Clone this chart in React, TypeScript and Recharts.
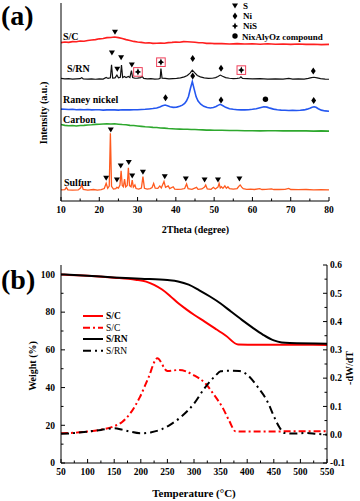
import React from 'react';
import { ComposedChart, Line, Scatter, XAxis, YAxis } from 'recharts';

const FONT = '"Liberation Serif", "Times New Roman", serif';

// ---------- Panel (a): XRD patterns (2Theta, stacked intensity) ----------
const THETA_TICKS = [10, 15, 20, 25, 30, 35, 40, 45, 50, 55, 60, 65, 70, 75, 80];

const SC_XRD: [number, number][] = [
  [10, 80.0], [11, 80.3], [12, 80.1], [13, 80.5], [14, 80.4], [15, 80.8], [16, 80.7], [17, 81.1], [18, 81.3],
  [19, 81.5], [20, 81.9], [21, 82.1], [22, 82.5], [23, 82.6], [24, 82.8], [25, 82.5], [26, 82.1], [27, 81.5],
  [28, 81.1], [29, 80.6], [30, 80.3], [31, 80.1], [32, 79.8], [33, 79.9], [34, 79.6], [35, 79.7], [36, 79.8],
  [37, 79.7], [38, 80.0], [39, 80.1], [40, 80.3], [41, 80.2], [42, 80.5], [43, 80.4], [44, 80.3], [45, 80.2],
  [46, 79.9], [47, 79.9], [48, 79.6], [49, 79.7], [50, 79.5], [52, 79.5], [54, 79.3], [56, 79.5], [58, 79.3],
  [60, 79.4], [62, 79.2], [64, 79.4], [66, 79.2], [68, 79.3], [70, 79.1], [72, 79.3], [74, 79.1], [76, 79.2],
  [78, 79.0], [80, 79.1],
];

const SRN_XRD: [number, number][] = [
  [10, 61.9], [11, 61.7], [12, 61.8], [13, 61.6], [14, 61.7], [15, 61.8], [15.4, 62.3], [15.8, 61.7], [17, 61.6],
  [18, 61.7], [19, 61.5], [20, 61.7], [21, 61.6], [21.8, 62.4], [22.3, 61.9], [22.9, 62.2], [23.2, 68.8], [23.5, 62.1],
  [24.1, 62.2], [24.6, 63.6], [25.0, 62.2], [25.5, 62.5], [25.8, 68.6], [26.1, 62.4], [26.6, 62.9], [27.0, 62.3],
  [27.6, 62.9], [28.0, 62.4], [28.4, 65.9], [28.7, 62.4], [29.3, 62.0], [30.0, 62.1], [30.8, 62.3], [31.2, 62.9],
  [31.6, 61.9], [32.5, 61.7], [33.5, 61.8], [34.5, 61.6], [35.5, 61.7], [35.9, 62.0], [36.1, 66.9], [36.4, 62.0],
  [37.2, 61.9], [38.2, 61.7], [39.2, 61.8], [40.2, 61.9], [41.2, 62.2], [42.2, 62.7], [43.0, 63.4], [43.7, 64.6],
  [44.3, 66.1], [44.9, 64.8], [45.6, 63.4], [46.4, 62.7], [47.4, 62.2], [48.5, 61.9], [49.5, 62.0], [50.4, 62.3],
  [51.0, 62.9], [51.6, 63.6], [52.2, 63.0], [53.0, 62.3], [54.0, 62.0], [55.0, 61.8], [56.0, 61.9], [56.7, 62.1],
  [57.0, 62.7], [57.4, 61.9], [58.5, 61.8], [60, 61.7], [62, 61.8], [64, 61.6], [66, 61.7], [68, 61.6], [69.5, 61.9],
  [70.5, 61.6], [72, 61.7], [73.5, 61.6], [74.6, 61.9], [75.4, 62.3], [76.1, 62.5], [76.9, 62.2], [77.8, 61.8],
  [79, 61.6], [80, 61.5],
];

const RANEY_XRD: [number, number][] = [
  [10, 46.4], [11, 46.3], [12, 46.2], [13, 46.3], [14, 46.1], [15, 46.2], [16, 46.1], [17, 46.2], [18, 46.0],
  [19, 46.1], [20, 46.1], [21, 45.9], [22, 46.0], [23, 46.1], [24, 46.0], [25, 45.9], [26, 46.1], [27, 46.0],
  [28, 46.0], [29, 46.1], [30, 46.1], [31, 46.2], [32, 46.3], [33, 46.5], [34, 46.7], [35, 47.0], [35.8, 47.5],
  [36.5, 48.1], [37.2, 48.5], [37.8, 48.1], [38.5, 47.6], [39.3, 47.3], [40.2, 47.4], [41.0, 47.8], [41.7, 48.4],
  [42.3, 49.3], [42.8, 50.6], [43.3, 52.8], [43.8, 56.8], [44.3, 60.3], [44.8, 56.4], [45.3, 52.6], [45.8, 50.5],
  [46.5, 48.9], [47.3, 47.8], [48.2, 47.2], [49.0, 47.0], [49.8, 47.2], [50.5, 47.7], [51.0, 48.3], [51.6, 48.8],
  [52.2, 48.2], [53.0, 47.3], [54.0, 46.6], [55.0, 46.3], [56.0, 46.1], [57.0, 46.0], [58.0, 46.0], [59.0, 46.1],
  [60.0, 46.3], [61.0, 46.6], [62.0, 47.1], [63.0, 47.6], [63.8, 47.4], [64.6, 46.9], [65.5, 46.4], [66.5, 46.1],
  [67.5, 45.9], [68.5, 45.8], [69.5, 45.7], [70.5, 45.8], [71.5, 45.7], [72.5, 45.8], [73.5, 46.0], [74.3, 46.4],
  [75.0, 46.9], [75.6, 47.4], [76.1, 47.6], [76.6, 47.3], [77.2, 46.6], [78.0, 45.9], [79.0, 45.5], [80, 45.3],
];

const CARBON_XRD: [number, number][] = [
  [10, 38.6], [11, 38.2], [12, 38.0], [13, 38.1], [14, 37.9], [15, 38.1], [16, 38.2], [17, 38.4], [18, 38.5],
  [19, 38.7], [20, 38.8], [21, 38.9], [22, 39.0], [23, 38.9], [24, 39.0], [25, 38.8], [26, 38.6], [27, 38.5],
  [28, 38.2], [29, 38.1], [30, 37.9], [31, 37.7], [32, 37.5], [33, 37.4], [34, 37.2], [35, 37.1], [36, 36.9],
  [37, 36.8], [38, 36.6], [39, 36.5], [40, 36.4], [41, 36.3], [42, 36.2], [43, 36.2], [44, 36.1], [45, 36.1],
  [46, 36.0], [47, 35.9], [48, 35.8], [49, 35.8], [50, 35.7], [52, 35.7], [54, 35.6], [56, 35.6], [58, 35.5],
  [60, 35.5], [62, 35.4], [64, 35.5], [66, 35.5], [68, 35.4], [70, 35.4], [72, 35.4], [74, 35.4], [76, 35.3],
  [78, 35.4], [80, 35.3],
];

const SULFUR_XRD: [number, number][] = [
  [10, 5.6], [11, 5.7], [11.4, 6.8], [11.8, 5.6], [13, 5.5], [14.5, 5.6], [15.1, 6.5], [15.4, 8.1], [15.8, 5.9],
  [17, 5.5], [18.5, 5.8], [19.5, 5.5], [20.5, 5.7], [21.3, 6.3], [21.8, 8.9], [22.2, 6.4], [22.6, 7.5], [22.9, 34.2],
  [23.2, 7.4], [23.7, 6.0], [24.3, 6.2], [24.6, 6.9], [25.0, 6.5], [25.4, 8.0], [25.7, 15.3], [26.0, 7.8], [26.3, 7.2],
  [26.6, 11.1], [26.9, 7.1], [27.3, 7.8], [27.6, 16.8], [27.9, 7.8], [28.3, 7.2], [28.6, 10.6], [28.9, 7.0],
  [29.3, 8.1], [29.6, 6.3], [30.3, 6.0], [31.0, 6.5], [31.4, 12.3], [31.8, 6.4], [32.5, 6.0], [33.3, 6.3], [33.8, 6.8],
  [34.2, 8.9], [34.6, 6.5], [35.3, 6.4], [35.8, 7.6], [36.2, 6.6], [36.9, 9.8], [37.3, 6.9], [38.0, 7.6], [38.4, 6.3],
  [39.3, 7.2], [39.7, 6.0], [40.5, 5.9], [41.5, 6.0], [42.3, 6.3], [42.8, 8.6], [43.2, 6.2], [44.2, 5.9], [45.4, 6.9],
  [45.8, 5.9], [46.8, 6.1], [47.5, 7.0], [47.8, 8.1], [48.2, 6.1], [49.2, 5.9], [49.8, 6.9], [50.3, 6.1], [51.0, 7.0],
  [51.3, 8.9], [51.6, 6.6], [51.9, 7.2], [52.3, 6.4], [52.8, 7.6], [53.2, 6.4], [53.6, 7.2], [54.0, 6.2], [55.0, 6.0],
  [56.0, 6.3], [56.5, 7.5], [56.8, 8.1], [57.2, 7.0], [57.6, 6.2], [58.5, 5.9], [59.5, 6.0], [60.5, 5.8], [61.9, 6.2],
  [62.5, 5.8], [63.5, 5.9], [65.0, 6.1], [65.6, 5.8], [67, 5.8], [68.5, 5.9], [69.5, 6.4], [70, 5.8], [72, 5.7],
  [74, 5.8], [76, 5.6], [78, 5.7], [80, 5.6],
];

// phase markers (2Theta, stacked intensity)
const S_MARKS: [number, number][] = [
  [24.1, 85.2], [23.3, 74.8], [25.7, 72.4], [24.7, 66.6], [28.5, 68.7],
  [21.8, 11.5], [23.0, 35.9], [24.6, 10.6], [25.6, 17.7], [27.7, 19.4], [28.6, 12.6], [31.4, 14.5],
  [37.1, 12.3], [42.6, 11.1], [47.5, 10.6], [51.0, 10.6], [56.6, 11.1],
];
const NI_MARKS: [number, number][] = [
  [44.4, 72.0], [51.8, 67.0], [75.9, 65.7], [44.4, 63.1], [37.3, 52.2], [51.8, 51.0], [76.0, 50.7],
];
const NIS_MARKS: [number, number][] = [[30.1, 65.2], [36.1, 70.1], [57.1, 66.1]];
const NIXALYOZ_MARKS: [number, number][] = [[63.4, 51.4]];

// ---------- Panel (b): TGA / DTG ----------
const TEMP_TICKS = [50, 75, 100, 125, 150, 175, 200, 225, 250, 275, 300, 325, 350, 375, 400, 425, 450, 475, 500, 525, 550];
const WEIGHT_TICKS = [0, 10, 20, 30, 40, 50, 60, 70, 80, 90, 100];
const DTG_TICKS = [-0.1, -0.05, 0, 0.05, 0.1, 0.15, 0.2, 0.25, 0.3, 0.35, 0.4, 0.45, 0.5, 0.55, 0.6];

const SC_WEIGHT: [number, number][] = [
  [50, 100], [100, 99.3], [150, 98.3], [190, 97.2], [210, 96.2], [225, 94.5], [240, 92.0], [255, 88.6], [270, 84.8],
  [285, 81.6], [300, 78.6], [320, 75.0], [340, 71.3], [360, 67.5], [383, 62.8], [420, 62.7], [480, 62.7], [550, 62.6],
];
const SRN_WEIGHT: [number, number][] = [
  [50, 100], [100, 99.3], [150, 98.4], [200, 97.7], [250, 97.0], [270, 96.3], [290, 94.6], [310, 91.6], [330, 88.3],
  [350, 84.6], [370, 80.2], [390, 75.9], [410, 71.8], [430, 68.0], [450, 65.0], [465, 63.9], [480, 63.6], [550, 63.3],
];
const SC_DTG: [number, number][] = [
  [50, 0.005], [75, 0.007], [100, 0.011], [125, 0.018], [150, 0.03], [165, 0.045], [180, 0.075], [198, 0.132],
  [214, 0.2], [231, 0.27], [250, 0.225], [272, 0.229], [300, 0.21], [322, 0.18], [338, 0.14], [354, 0.095],
  [366, 0.05], [378, 0.012], [400, 0.011], [450, 0.011], [470, 0.012], [550, 0.012],
];
const SRN_DTG: [number, number][] = [
  [50, 0.003], [75, 0.006], [100, 0.011], [125, 0.017], [150, 0.023], [165, 0.018], [180, 0.011], [200, 0.005],
  [220, 0.009], [240, 0.02], [255, 0.035], [275, 0.062], [300, 0.11], [320, 0.165], [340, 0.208], [350, 0.224],
  [365, 0.226], [385, 0.225], [400, 0.212], [420, 0.168], [440, 0.11], [450, 0.066], [460, 0.028], [470, 0.006],
  [490, 0.004], [510, 0.006], [530, 0.003], [550, 0.0],
];

const pts = (arr: [number, number][]) => arr.map(([x, y]) => ({ x, y }));

const C_RED = '#ff1f1f';
const C_BLUE = '#2457f0';
const C_GREEN = '#2ea82e';
const C_ORANGE = '#ff5a1e';
const C_BOX = '#f0405a';

// ---------- marker glyphs ----------
const Tri = ({ cx, cy }: any) => (
  <polygon points={`${cx - 3},${cy - 2.5} ${cx + 3},${cy - 2.5} ${cx},${cy + 2.5}`} fill="#000" />
);
const Dia = ({ cx, cy }: any) => (
  <polygon points={`${cx},${cy - 3.5} ${cx + 2.4},${cy} ${cx},${cy + 3.5} ${cx - 2.4},${cy}`} fill="#000" />
);
const Star = ({ cx, cy }: any) => (
  <polygon
    points={`${cx},${cy - 3.6} ${cx + 1.1},${cy - 1.1} ${cx + 3.2},${cy} ${cx + 1.1},${cy + 1.1} ${cx},${cy + 3.6} ${cx - 1.1},${cy + 1.1} ${cx - 3.2},${cy} ${cx - 1.1},${cy - 1.1}`}
    fill="#000"
  />
);
const BoxStar = ({ cx, cy }: any) => (
  <g>
    <rect x={cx - 4.3} y={cy - 4.3} width={8.6} height={8.6} fill="none" stroke={C_BOX} strokeWidth={1} />
    <Star cx={cx} cy={cy} />
  </g>
);
const Dot = ({ cx, cy }: any) => <circle cx={cx} cy={cy} r={2.7} fill="#000" />;

// ---------- ticks ----------
const tickFont = { fontFamily: FONT, fontWeight: 700, fontSize: 9.5, fill: '#000' } as const;

const BottomTick = ({ x, y, payload, step }: any) => {
  const v = payload.value;
  const major = Math.round(v) % step === 0;
  return (
    <g>
      <line x1={x} x2={x} y1={y} y2={y - (major ? 4 : 2.5)} stroke="#000" strokeWidth={1} />
      {major && (
        <text x={x} y={y + 12} textAnchor="middle" {...tickFont}>
          {v}
        </text>
      )}
    </g>
  );
};

const LeftTick = ({ x, y, payload }: any) => {
  const v = payload.value;
  const major = Math.round(v) % 20 === 0;
  return (
    <g>
      <line x1={x} x2={x + (major ? 4 : 2.5)} y1={y} y2={y} stroke="#000" strokeWidth={1} />
      {major && (
        <text x={x - 6} y={y + 3.3} textAnchor="end" {...tickFont}>
          {v}
        </text>
      )}
    </g>
  );
};

const RightTick = ({ x, y, payload }: any) => {
  const v = payload.value;
  const major = Math.round(v * 100) % 10 === 0;
  return (
    <g>
      <line x1={x} x2={x - (major ? 4 : 2.5)} y1={y} y2={y} stroke="#000" strokeWidth={1} />
      {major && (
        <text x={x + 3} y={y + 3.3} textAnchor="start" {...tickFont}>
          {v.toFixed(1)}
        </text>
      )}
    </g>
  );
};

const axisStroke = { stroke: '#000', strokeWidth: 1 };

const T = ({ x, y, size = 10, anchor = 'start', rotate, children, weight = 700 }: any) => (
  <text
    x={x}
    y={y}
    fontFamily={FONT}
    fontWeight={weight}
    fontSize={size}
    textAnchor={anchor}
    fill="#000"
    transform={rotate ? `rotate(${rotate} ${x} ${y})` : undefined}
    dominantBaseline={rotate ? 'central' : undefined}
  >
    {children}
  </text>
);

export default function App() {
  return (
    <div style={{ position: 'absolute', left: 0, top: 0, width: 360, height: 501, background: '#fff' }}>
      {/* Panel (a) */}
      <div style={{ position: 'absolute', left: 0, top: 0 }}>
        <ComposedChart width={360} height={250} margin={{ top: 3, right: 31, bottom: 0, left: 0 }}>
          <XAxis
            xAxisId="b"
            dataKey="x"
            type="number"
            domain={[10, 80]}
            ticks={THETA_TICKS}
            interval={0}
            height={49}
            tickSize={0}
            tickMargin={0}
            axisLine={axisStroke}
            tickLine={false}
            tick={(p: any) => <BottomTick {...p} step={10} />}
          />
          <XAxis xAxisId="t" orientation="top" type="number" domain={[10, 80]} height={0} tick={false} tickLine={false} axisLine={axisStroke} />
          <YAxis yAxisId="l" type="number" domain={[0, 100]} width={61} tick={false} tickLine={false} axisLine={axisStroke} />
          <YAxis yAxisId="r" orientation="right" type="number" domain={[0, 100]} width={0} tick={false} tickLine={false} axisLine={axisStroke} />
          <Line xAxisId="b" yAxisId="l" data={pts(SULFUR_XRD)} dataKey="y" type="linear" stroke={C_ORANGE} strokeWidth={1.3} dot={false} isAnimationActive={false} />
          <Line xAxisId="b" yAxisId="l" data={pts(CARBON_XRD)} dataKey="y" type="linear" stroke={C_GREEN} strokeWidth={1.6} dot={false} isAnimationActive={false} />
          <Line xAxisId="b" yAxisId="l" data={pts(RANEY_XRD)} dataKey="y" type="linear" stroke={C_BLUE} strokeWidth={1.6} dot={false} isAnimationActive={false} />
          <Line xAxisId="b" yAxisId="l" data={pts(SRN_XRD)} dataKey="y" type="linear" stroke="#111" strokeWidth={1.2} dot={false} isAnimationActive={false} />
          <Line xAxisId="b" yAxisId="l" data={pts(SC_XRD)} dataKey="y" type="linear" stroke={C_RED} strokeWidth={1.6} dot={false} isAnimationActive={false} />
          <Scatter xAxisId="b" yAxisId="l" data={pts(S_MARKS)} dataKey="y" shape={(p: any) => <Tri cx={p.cx} cy={p.cy} />} isAnimationActive={false} />
          <Scatter xAxisId="b" yAxisId="l" data={pts(NI_MARKS)} dataKey="y" shape={(p: any) => <Dia cx={p.cx} cy={p.cy} />} isAnimationActive={false} />
          <Scatter xAxisId="b" yAxisId="l" data={pts(NIS_MARKS)} dataKey="y" shape={(p: any) => <BoxStar cx={p.cx} cy={p.cy} />} isAnimationActive={false} />
          <Scatter xAxisId="b" yAxisId="l" data={pts(NIXALYOZ_MARKS)} dataKey="y" shape={(p: any) => <Dot cx={p.cx} cy={p.cy} />} isAnimationActive={false} />
        </ComposedChart>
      </div>

      {/* Panel (b) */}
      <div style={{ position: 'absolute', left: 0, top: 250 }}>
        <ComposedChart width={360} height={251} margin={{ top: 15, right: 0, bottom: 0, left: 0 }}>
          <XAxis
            xAxisId="b"
            dataKey="x"
            type="number"
            domain={[50, 550]}
            ticks={TEMP_TICKS}
            interval={0}
            height={38}
            tickSize={0}
            tickMargin={0}
            axisLine={axisStroke}
            tickLine={false}
            tick={(p: any) => <BottomTick {...p} step={50} />}
          />
          <XAxis xAxisId="t" orientation="top" type="number" domain={[50, 550]} height={0} tick={false} tickLine={false} axisLine={axisStroke} />
          <YAxis
            yAxisId="l"
            type="number"
            domain={[0, 105]}
            ticks={WEIGHT_TICKS}
            interval={0}
            width={61}
            tickSize={0}
            tickMargin={0}
            tickLine={false}
            axisLine={axisStroke}
            tick={(p: any) => <LeftTick {...p} />}
          />
          <YAxis
            yAxisId="r"
            orientation="right"
            type="number"
            domain={[-0.1, 0.6]}
            ticks={DTG_TICKS}
            interval={0}
            width={33}
            tickSize={0}
            tickMargin={0}
            tickLine={false}
            axisLine={axisStroke}
            tick={(p: any) => <RightTick {...p} />}
          />
          <Line xAxisId="b" yAxisId="r" data={pts(SC_DTG)} dataKey="y" type="monotone" stroke="#ff0000" strokeWidth={2} strokeDasharray="7 3 2 3" dot={false} isAnimationActive={false} />
          <Line xAxisId="b" yAxisId="r" data={pts(SRN_DTG)} dataKey="y" type="monotone" stroke="#000" strokeWidth={2} strokeDasharray="8 4 2 4" dot={false} isAnimationActive={false} />
          <Line xAxisId="b" yAxisId="l" data={pts(SC_WEIGHT)} dataKey="y" type="monotone" stroke="#ff0000" strokeWidth={2} dot={false} isAnimationActive={false} />
          <Line xAxisId="b" yAxisId="l" data={pts(SRN_WEIGHT)} dataKey="y" type="monotone" stroke="#000" strokeWidth={2} dot={false} isAnimationActive={false} />
        </ComposedChart>
      </div>

      {/* Text overlay */}
      <svg width={360} height={501} style={{ position: 'absolute', left: 0, top: 0, pointerEvents: 'none' }}>
        <T x={1} y={25} size={28}>(a)</T>
        <T x={1} y={289} size={28}>(b)</T>

        {/* panel a legend */}
        <Tri cx={235} cy={6} />
        <T x={243} y={9} size={9}>S</T>
        <Dia cx={235} cy={16} />
        <T x={243} y={19} size={9}>Ni</T>
        <Star cx={235} cy={26} />
        <T x={243} y={29} size={9}>NiS</T>
        <Dot cx={235} cy={36} />
        <T x={242} y={39.5} size={9}>NixAlyOz compound</T>

        {/* panel a series labels */}
        <T x={63} y={40} size={10}>S/C</T>
        <T x={67} y={72} size={10}>S/RN</T>
        <T x={63} y={103} size={10}>Raney nickel</T>
        <T x={63} y={122.5} size={10}>Carbon</T>
        <T x={64} y={186} size={10}>Sulfur</T>

        <T x={43} y={113} size={10} anchor="middle" rotate={-90}>Intensity (a.u.)</T>
        <T x={195.5} y={233} size={10} anchor="middle">2Theta (degree)</T>

        {/* panel b legend */}
        <line x1={83} x2={103} y1={316} y2={316} stroke="#ff0000" strokeWidth={2} />
        <T x={106} y={319.3} size={9.5}>S/C</T>
        <line x1={83} x2={103} y1={327.7} y2={327.7} stroke="#ff0000" strokeWidth={2} strokeDasharray="7 3 2 3" />
        <T x={106} y={331} size={9.5} weight={400}>S/C</T>
        <line x1={83} x2={103} y1={339} y2={339} stroke="#000" strokeWidth={2} />
        <T x={106} y={342.3} size={9.5}>S/RN</T>
        <line x1={83} x2={103} y1={350.7} y2={350.7} stroke="#000" strokeWidth={2} strokeDasharray="8 4 2 4" />
        <T x={106} y={354} size={9.5} weight={400}>S/RN</T>

        <T x={32} y={366} size={10} anchor="middle" rotate={-90}>Weight (%)</T>
        <T x={349} y={368} size={10} anchor="middle" rotate={-90}>-dW/dT</T>
        <T x={194} y={497} size={11} anchor="middle">Temperature (°C)</T>
      </svg>
    </div>
  );
}
